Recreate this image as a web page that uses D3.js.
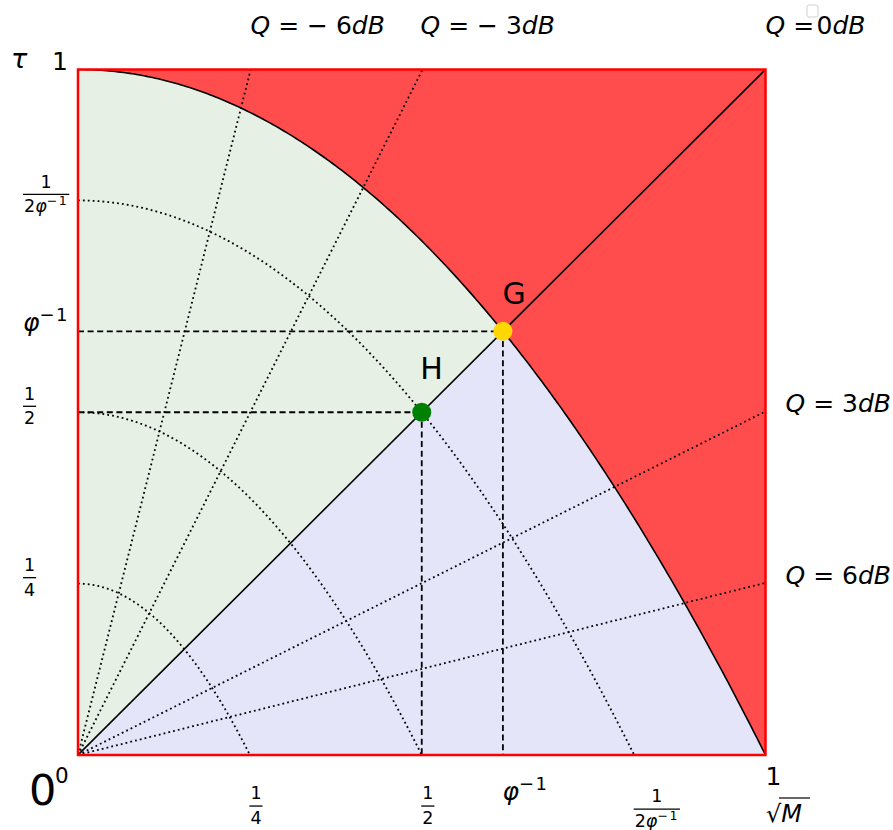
<!DOCTYPE html>
<html>
<head>
<meta charset="utf-8">
<script src="https://cdn.jsdelivr.net/npm/d3@7/dist/d3.min.js"></script>
<style>
  body { margin: 0; background: #ffffff; }
  svg text { font-family: "DejaVu Sans", sans-serif; fill: #000; }
</style>
</head>
<body>
<svg id="chart" width="893" height="830"></svg>
<script>
const PHI_INV = (Math.sqrt(5) - 1) / 2;

// Quality-factor rays (dB): tau = sqrt(M) * 10^(-Q/10)
const qLevels = [-6, -3, 0, 3, 6];
const qLabels = ["Q = − 6dB", "Q = − 3dB", "Q =\u200a0dB", "Q = 3dB", "Q = 6dB"];

// Scaled copies of the boundary: tau = r * (1 - (sqrt(M)/r)^2)
const levelRadii = [0.25, 0.5, 1 / (2 * PHI_INV)];
const boundaryRadius = 1;

// Marked points on the Q = 0dB diagonal
const pointNames = ["G", "H"];
const pointX = [PHI_INV, 0.5];
const pointY = [PHI_INV, 0.5];
const pointColors = ["#ffd700", "#008000"];

// Axis ticks
const xTickValues = [0.25, 0.5, PHI_INV, 1 / (2 * PHI_INV), 1];
const xTickLabels = ["1/4", "1/2", "φ^{−1}", "1/2φ^{−1}", "1"];
const yTickValues = [1, 1 / (2 * PHI_INV), PHI_INV, 0.5, 0.25];
const yTickLabels = ["1", "1/2φ^{−1}", "φ^{−1}", "1/2", "1/4"];

// ---------------------------------------------------------------------------
const svg = d3.select("#chart");
const x = d3.scaleLinear().domain([0, 1]).range([78, 765.5]);
const y = d3.scaleLinear().domain([0, 1]).range([755, 69.5]);
const line = d3.line().x(d => x(d[0])).y(d => y(d[1]));

// points along tau = r(1 - (s/r)^2) for s in [s0, s1]
function curve(r, s0, s1, n = 240) {
  return d3.range(n + 1).map(i => {
    const s = s0 + (s1 - s0) * i / n;
    return [s, r * (1 - (s / r) * (s / r))];
  });
}

svg.append("defs").append("clipPath").attr("id", "plotClip")
  .append("rect").attr("x", x(0)).attr("y", y(1))
  .attr("width", x(1) - x(0)).attr("height", y(0) - y(1));

const plot = svg.append("g").attr("clip-path", "url(#plotClip)");
const g0 = pointX[0];

// regions
plot.append("path")
  .attr("d", line([[0, 1], ...curve(boundaryRadius, 0, 1), [1, 1]]) + "Z")
  .attr("fill", "#ff4d4d");
plot.append("path")
  .attr("d", line([[0, 0], ...curve(boundaryRadius, 0, g0)]) + "Z")
  .attr("fill", "#e6f0e4");
plot.append("path")
  .attr("d", line([[0, 0], ...curve(boundaryRadius, g0, 1)]) + "Z")
  .attr("fill", "#e5e5fa");

// dotted level curves
levelRadii.forEach(r => {
  plot.append("path").attr("d", line(curve(r, 0, r)))
    .attr("fill", "none").attr("stroke", "#000")
    .attr("stroke-width", 1.8).attr("stroke-dasharray", "1.8,3.1");
});

// Q rays
qLevels.forEach(q => {
  const k = Math.pow(10, -q / 10);
  const end = k >= 1 ? [1 / k, 1] : [1, k];
  const p = plot.append("path").attr("d", line([[0, 0], end]))
    .attr("fill", "none").attr("stroke", "#000");
  if (q === 0) p.attr("stroke-width", 1.6);
  else p.attr("stroke-width", 1.8).attr("stroke-dasharray", "1.8,3.1");
});

// dashed guides to the marked points
pointNames.forEach((n, i) => {
  const px = pointX[i], py = pointY[i];
  [[[0, py], [px, py]], [[px, py], [px, 0]]].forEach(seg => {
    plot.append("path").attr("d", line(seg))
      .attr("fill", "none").attr("stroke", "#000")
      .attr("stroke-width", 1.8).attr("stroke-dasharray", "6,3.6");
  });
});

// boundary curve
plot.append("path").attr("d", line(curve(boundaryRadius, 0, 1)))
  .attr("fill", "none").attr("stroke", "#000").attr("stroke-width", 1.6);

// frame
svg.append("rect").attr("x", x(0)).attr("y", y(1))
  .attr("width", x(1) - x(0)).attr("height", y(0) - y(1))
  .attr("fill", "none").attr("stroke", "#ff0000").attr("stroke-width", 2.5);

// marked points and their names
const nameOffset = { G: [-0.5, -27], H: [-1.5, -33] };
pointNames.forEach((n, i) => {
  const cx = x(pointX[i]), cy = y(pointY[i]);
  svg.append("circle").attr("cx", cx).attr("cy", cy).attr("r", 9.5)
    .attr("fill", pointColors[i]);
  svg.append("text").attr("x", cx + nameOffset[n][0]).attr("y", cy + nameOffset[n][1])
    .attr("font-size", 30).text(n);
});

// ---------------------------------------------------------------------------
// math-style text: letters italic, "^{...}" superscript
const ITAL = /[A-Za-zα-ωφτ]/;
function addRuns(t, str, fs) {
  const re = /\^\{([^}]*)\}/g;
  const parts = [];
  let last = 0, m;
  while ((m = re.exec(str))) {
    if (m.index > last) parts.push({ s: str.slice(last, m.index), sup: false });
    parts.push({ s: m[1], sup: true });
    last = re.lastIndex;
  }
  if (last < str.length) parts.push({ s: str.slice(last), sup: false });
  let raised = 0;
  parts.forEach(p => {
    const size = p.sup ? fs * 0.72 : fs;
    const shift = p.sup ? -0.42 * fs : 0;
    const runs = p.s.match(/[A-Za-zα-ωφτ]+|[^A-Za-zα-ωφτ]+/g) || [];
    runs.forEach((r, j) => {
      const ts = t.append("tspan").text(r).attr("font-size", size)
        .attr("font-style", ITAL.test(r) ? "italic" : "normal");
      if (p.sup) ts.attr("letter-spacing", 1.5);
      if (j === 0 && shift !== raised) { ts.attr("dy", shift - raised); raised = shift; }
    });
  });
}

function drawLabel(str, left, baseline, fs, fracFs) {
  const slash = str.indexOf("/");
  if (slash < 0) {
    const t = svg.append("text").attr("x", left).attr("y", baseline).attr("font-size", fs);
    addRuns(t, str, fs);
    return;
  }
  const num = str.slice(0, slash), den = str.slice(slash + 1);
  const f = fracFs;
  const tn = svg.append("text").attr("y", baseline - 0.72 * f).attr("font-size", f)
    .attr("text-anchor", "middle");
  addRuns(tn, num, f);
  const td = svg.append("text").attr("y", baseline + 0.68 * f).attr("font-size", f)
    .attr("text-anchor", "middle");
  addRuns(td, den, f);
  const w = Math.max(tn.node().getComputedTextLength(), td.node().getComputedTextLength()) + 2;
  const cx = left + w / 2;
  tn.attr("x", cx); td.attr("x", cx);
  svg.append("line").attr("x1", left).attr("x2", left + w)
    .attr("y1", baseline - 0.34 * f).attr("y2", baseline - 0.34 * f)
    .attr("stroke", "#000").attr("stroke-width", 1.3);
}

// y tick labels (baseline on the tick)
yTickValues.forEach((v, i) => {
  const one = yTickLabels[i] === "1";
  drawLabel(yTickLabels[i], one ? 52 : 23, y(v), one ? 25 : 25, 17.5);
});
// y axis name
svg.append("text").attr("x", 11).attr("y", 68).attr("font-size", 27)
  .attr("font-style", "italic").text("τ");

// x tick labels (left edge on the tick)
const xBaselines = [812, 812, 800, 815, 785];
xTickValues.forEach((v, i) => {
  drawLabel(xTickLabels[i], x(v) + (xTickLabels[i] === "1" ? 0 : -0.5), xBaselines[i],
    25, 17.5);
});

// origin
svg.append("text").attr("x", 29).attr("y", 805).attr("font-size", 43).text("0");
svg.append("text").attr("x", 55).attr("y", 783).attr("font-size", 21.5).text("0");

// x axis name: sqrt(M)
const sq = svg.append("text").attr("x", 766).attr("y", 822).attr("font-size", 24);
sq.append("tspan").text("√");
sq.append("tspan").attr("font-style", "italic").text("M");
svg.append("line").attr("x1", 779).attr("x2", 810).attr("y1", 798).attr("y2", 798)
  .attr("stroke", "#000").attr("stroke-width", 1.2);

// Q ray labels
const qPos = [[250.5, 34], [420.5, 34], [765.5, 34], [785.5, 412], [785.5, 584]];
qLevels.forEach((q, i) => {
  const t = svg.append("text").attr("x", qPos[i][0]).attr("y", qPos[i][1])
    .attr("font-size", 25).style("white-space", "pre");
  addRuns(t, qLabels[i], 25);
});

// empty legend frame
svg.append("rect").attr("x", 807).attr("y", 5).attr("width", 11).attr("height", 12)
  .attr("rx", 2).attr("fill", "#fff").attr("fill-opacity", 0.8)
  .attr("stroke", "#d0d0d0").attr("stroke-width", 1);
</script>
</body>
</html>
